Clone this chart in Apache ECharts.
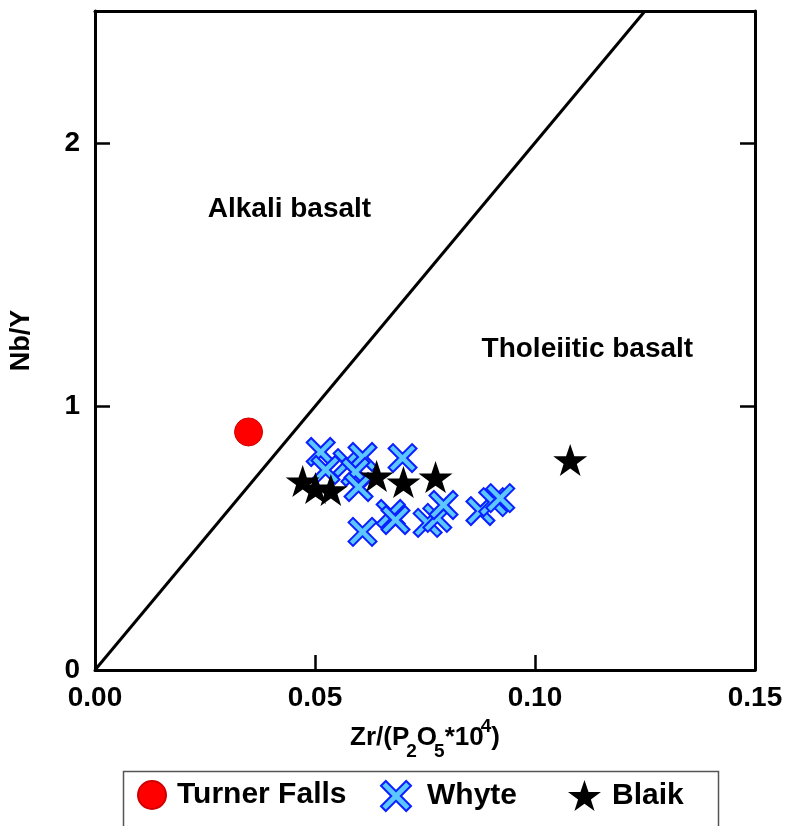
<!DOCTYPE html>
<html>
<head>
<meta charset="utf-8">
<script src="https://cdn.jsdelivr.net/npm/echarts@6/dist/echarts.min.js"></script>
<style>
  html, body { margin: 0; padding: 0; background: #fff; }
  #chart { width: 787px; height: 826px; }
</style>
</head>
<body>
<div id="chart"></div>
<script>
// Nb/Y vs Zr/(P2O5*10^4) discrimination diagram
const turnerFalls = [[0.0349, 0.903]];
const whyte = [
  [0.0513, 0.827], [0.0524, 0.759], [0.0574, 0.785], [0.0608, 0.808],
  [0.0592, 0.751], [0.0699, 0.804], [0.0599, 0.694], [0.0608, 0.524],
  [0.0672, 0.592], [0.0683, 0.569], [0.0756, 0.558], [0.0778, 0.577],
  [0.0792, 0.626], [0.0876, 0.603], [0.0905, 0.637], [0.0921, 0.652]
];
const blaik = [
  [0.0472, 0.717], [0.0501, 0.690], [0.0536, 0.683], [0.0640, 0.736],
  [0.0701, 0.713], [0.0774, 0.732], [0.1080, 0.797]
];
// Alkali / tholeiite dividing line: Nb/Y = 20 * Zr/(P2O5*10^4)
const boundaryLine = [[0, 0], [0.125, 2.5]];
const regionLabels = [[0.0442, 1.749, 'Alkali basalt'], [0.1119, 1.218, 'Tholeiitic basalt']];
const xTicks = [0, 0.05, 0.10, 0.15];
const yTicks = [0, 1, 2];

const crossPath = 'path://M0,16 L16,0 L50,34 L84,0 L100,16 L66,50 L100,84 L84,100 L50,66 L16,100 L0,84 L34,50 Z';
const starPath = 'path://M50,0 L61.8,35.1 L98.1,35.1 L68.7,56.8 L79.4,90.5 L50,69.6 L20.6,90.5 L31.3,56.8 L1.9,35.1 L38.2,35.1 Z';

const FONT = 'Liberation Sans, Arial, sans-serif';
const chart = echarts.init(document.getElementById('chart'));

const legendText = { fontSize: 30, fontWeight: 'bold', color: '#000', fontFamily: FONT };

chart.setOption({
  animation: false,
  backgroundColor: '#fff',
  textStyle: { fontFamily: FONT },
  grid: { left: 94, right: 32, top: 11, bottom: 156 },
  xAxis: [{
    type: 'value', min: 0, max: 0.15, interval: 0.05,
    name: '{b|Zr/(P}{sub|2}{b|O}{sub|5}{b|*10}{sup|4}{b|)}',
    nameLocation: 'middle', nameGap: 49,
    nameTextStyle: {
      rich: {
        b: { fontSize: 26, fontWeight: 'bold', color: '#000', fontFamily: FONT, lineHeight: 30 },
        sub: { fontSize: 19, fontWeight: 'bold', color: '#000', fontFamily: FONT, verticalAlign: 'bottom', lineHeight: 20, padding: [0, 0, -8, -3] },
        sup: { fontSize: 19, fontWeight: 'bold', color: '#000', fontFamily: FONT, verticalAlign: 'top', lineHeight: 20, padding: [-6, 0, 0, -3] }
      }
    },
    axisLine: { show: true, onZero: false, lineStyle: { color: '#000', width: 3 } },
    axisTick: { show: true, inside: true, length: 15, lineStyle: { color: '#000', width: 2.5 } },
    axisLabel: {
      fontSize: 28, fontWeight: 'bold', color: '#000', margin: 14,
      formatter: v => xTicks.some(t => Math.abs(t - v) < 1e-9) ? v.toFixed(2) : ''
    },
    splitLine: { show: false }
  }, {
    type: 'value', min: 0, max: 0.15, position: 'top',
    axisLine: { show: true, onZero: false, lineStyle: { color: '#000', width: 3 } },
    axisTick: { show: false }, axisLabel: { show: false }, splitLine: { show: false }
  }],
  yAxis: [{
    type: 'value', min: 0, max: 2.5, interval: 1,
    name: 'Nb/Y', nameLocation: 'middle', nameGap: 60,
    nameTextStyle: { fontSize: 27, fontWeight: 'bold', color: '#000', fontFamily: FONT },
    axisLine: { show: true, onZero: false, lineStyle: { color: '#000', width: 3 } },
    axisTick: { show: true, inside: true, length: 15, lineStyle: { color: '#000', width: 2.5 } },
    axisLabel: {
      fontSize: 28, fontWeight: 'bold', color: '#000', margin: 15,
      formatter: v => yTicks.includes(v) ? String(v) : ''
    },
    splitLine: { show: false }
  }, {
    type: 'value', min: 0, max: 2.5, interval: 1, position: 'right',
    axisLine: { show: true, onZero: false, lineStyle: { color: '#000', width: 3 } },
    axisTick: { show: true, inside: true, length: 15, lineStyle: { color: '#000', width: 2.5 } },
    axisLabel: { show: false }, splitLine: { show: false }
  }],
  legend: [{
    data: [{ name: 'Turner Falls', icon: 'circle' }],
    left: 137, top: 780, padding: 0, itemWidth: 28, itemHeight: 28,
    textStyle: Object.assign({ padding: [0, 0, 0, 6] }, legendText)
  }, {
    data: [{ name: 'Whyte' }],
    left: 380, top: 780, padding: 0, itemWidth: 30, itemHeight: 30,
    textStyle: Object.assign({ padding: [0, 0, 0, 11] }, legendText)
  }, {
    data: [{ name: 'Blaik' }],
    left: 568, top: 780, padding: 0, itemWidth: 33, itemHeight: 31,
    textStyle: Object.assign({ padding: [0, 0, 0, 6] }, legendText)
  }],
  series: [{
    type: 'line', name: 'boundary', data: boundaryLine, symbol: 'none',
    lineStyle: { color: '#000', width: 3 }, silent: true, z: 1
  }, {
    type: 'scatter', name: 'Whyte', data: whyte, symbol: crossPath, symbolSize: 28,
    itemStyle: { color: '#5cc6ff', borderColor: '#0a1eff', borderWidth: 2, opacity: 1 }, z: 3
  }, {
    type: 'scatter', name: 'Blaik', data: blaik, symbol: starPath, symbolSize: [34, 32],
    itemStyle: { color: '#000', opacity: 1 }, z: 4
  }, {
    type: 'scatter', name: 'Turner Falls', data: turnerFalls, symbol: 'circle', symbolSize: 28,
    itemStyle: { color: '#ff0000', borderColor: '#d00000', borderWidth: 1, opacity: 1 }, z: 5
  }]
});

// Legend frame and field names, placed in data coordinates of the grid
const graphics = [{
  type: 'rect', left: 121, top: 769, silent: true,
  shape: { width: 595, height: 70 },
  style: { fill: 'none', stroke: '#555', lineWidth: 1.5 }
}];
regionLabels.forEach(([x, y, text]) => {
  const [px, py] = chart.convertToPixel({ gridIndex: 0 }, [x, y]);
  graphics.push({
    type: 'text', x: px, y: py, silent: true, z: 10,
    style: {
      text, x: 0, y: 0, align: 'center', verticalAlign: 'middle',
      fill: '#000', font: 'bold 28px ' + FONT
    }
  });
});
chart.setOption({ graphic: graphics });
</script>
</body>
</html>
